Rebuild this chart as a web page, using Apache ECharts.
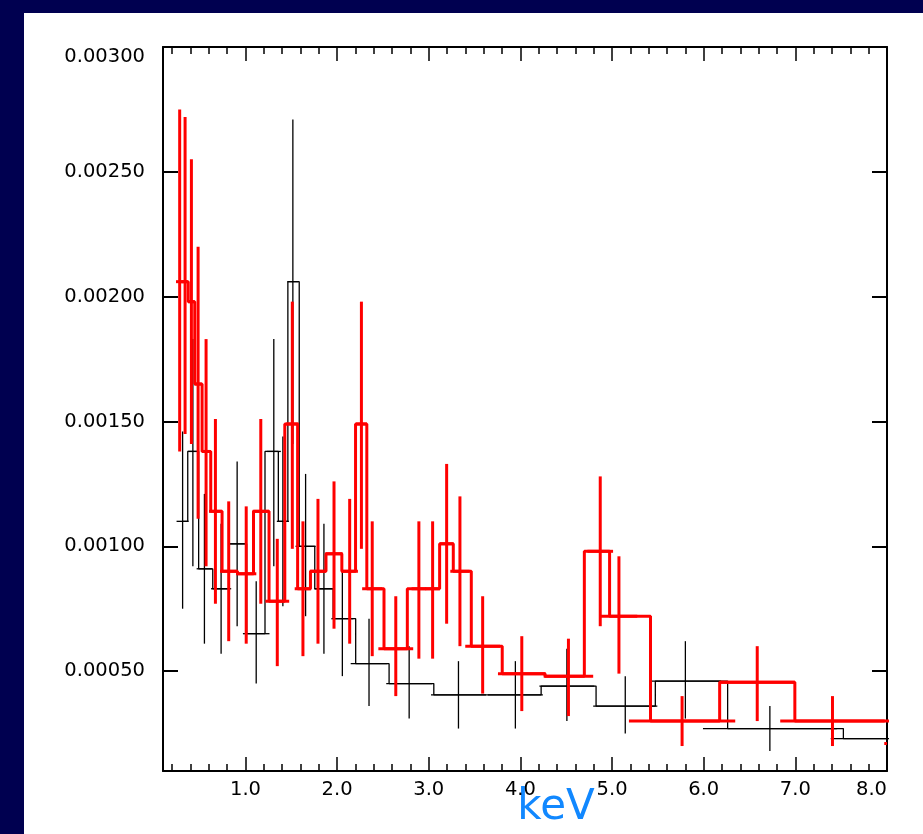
<!DOCTYPE html>
<html>
<head>
<meta charset="utf-8">
<script src="https://cdn.jsdelivr.net/npm/echarts@6/dist/echarts.min.js"></script>
<style>
html, body { margin: 0; padding: 0; background: #fff; }
#main { width: 923px; height: 834px; }
</style>
</head>
<body>
<div id="main"></div>
<script>
// red data set: bin centre and half width (keV), rate, lower / upper error
var redX = [0.282, 0.341, 0.410, 0.483, 0.570, 0.672, 0.817, 1.008, 1.167, 1.347, 1.511, 1.627, 1.791, 1.966, 2.137, 2.265, 2.383, 2.640, 2.892, 3.042, 3.195, 3.340, 3.588, 4.015, 4.524, 4.871, 5.075, 5.764, 6.584, 7.405, 8.700]
var redXErr = [0.04, 0.03, 0.035, 0.04, 0.045, 0.07, 0.095, 0.11, 0.09, 0.13, 0.07, 0.09, 0.09, 0.095, 0.09, 0.06, 0.11, 0.19, 0.08, 0.08, 0.075, 0.105, 0.19, 0.26, 0.27, 0.14, 0.2, 0.58, 0.41, 0.57, 0.73]
var redY = [0.00206, 0.00206, 0.00198, 0.00165, 0.00138, 0.00114, 0.00090, 0.00089, 0.00114, 0.00078, 0.00149, 0.00083, 0.00090, 0.00097, 0.00090, 0.00149, 0.00083, 0.00059, 0.00083, 0.00083, 0.00101, 0.00090, 0.00060, 0.00049, 0.00048, 0.00098, 0.00072, 0.00030, 0.000455, 0.00030, 0.00021]
var redLo = [0.00138, 0.00145, 0.00141, 0.00111, 0.00092, 0.00077, 0.00062, 0.00061, 0.00077, 0.00052, 0.00099, 0.00056, 0.00061, 0.00067, 0.00061, 0.00099, 0.00056, 0.00040, 0.00055, 0.00055, 0.00069, 0.00060, 0.00041, 0.00034, 0.00032, 0.00068, 0.00049, 0.00020, 0.00030, 0.00020, 0.00013]
var redHi = [0.00275, 0.00272, 0.00255, 0.00220, 0.00183, 0.00151, 0.00118, 0.00116, 0.00151, 0.00103, 0.00198, 0.00110, 0.00119, 0.00126, 0.00119, 0.00198, 0.00110, 0.00080, 0.00110, 0.00110, 0.00133, 0.00120, 0.00080, 0.00064, 0.00063, 0.00128, 0.00096, 0.00040, 0.00060, 0.00040, 0.00029]

// black data set
var blackX = [0.314, 0.426, 0.552, 0.734, 0.909, 1.117, 1.309, 1.408, 1.517, 1.656, 1.856, 2.057, 2.348, 2.786, 3.324, 3.945, 4.507, 5.144, 5.800, 6.722, 8.326]
var blackXErr = [0.066, 0.055, 0.085, 0.11, 0.087, 0.145, 0.077, 0.066, 0.06, 0.11, 0.104, 0.12, 0.2, 0.25, 0.3, 0.3, 0.3, 0.35, 0.39, 0.73, 0.94]
var blackY = [0.00110, 0.00138, 0.00091, 0.00083, 0.00101, 0.00065, 0.00138, 0.00110, 0.00206, 0.00100, 0.00083, 0.00071, 0.00053, 0.00045, 0.000405, 0.000405, 0.00044, 0.00036, 0.00046, 0.00027, 0.00023]
var blackLo = [0.00075, 0.00092, 0.00061, 0.00057, 0.00068, 0.00045, 0.00092, 0.00076, 0.00141, 0.00072, 0.00057, 0.00048, 0.00036, 0.00031, 0.00027, 0.00027, 0.00030, 0.00025, 0.00031, 0.00018, 0.00015]
var blackHi = [0.00146, 0.00183, 0.00121, 0.00109, 0.00134, 0.00086, 0.00183, 0.00144, 0.00271, 0.00129, 0.00109, 0.00095, 0.00071, 0.00060, 0.00054, 0.00054, 0.00059, 0.00048, 0.00062, 0.00036, 0.00031]

var font = 'DejaVu Sans'
var myChart = echarts.init(document.getElementById('main'))

// error crosses: horizontal bar = bin width, vertical bar = error range
function crosses(color, width, xs, xerr, ys, lo, hi, z) {
  var data = xs.map(function (x, i) { return [x, xerr[i], ys[i], lo[i], hi[i]] })
  return {
    type: 'custom',
    z: z,
    data: data,
    encode: { x: 0, y: 2 },
    renderItem: function (params, api) {
      var cs = params.coordSys
      var x = api.value(0), hw = api.value(1), y = api.value(2)
      var a = api.coord([x - hw, y]), b = api.coord([x + hw, y])
      var top = api.coord([x, api.value(4)]), bot = api.coord([x, api.value(3)])
      var style = { stroke: color, lineWidth: width, lineCap: 'butt' }
      var kids = []
      var l = Math.max(a[0], cs.x), r = Math.min(b[0], cs.x + cs.width)
      if (r > l) kids.push({ type: 'line', shape: { x1: l, y1: a[1], x2: r, y2: a[1] }, style: style })
      if (top[0] >= cs.x && top[0] <= cs.x + cs.width) {
        var y2 = Math.min(bot[1], cs.y + cs.height), y1 = Math.max(top[1], cs.y)
        kids.push({ type: 'line', shape: { x1: top[0], y1: y1, x2: top[0], y2: y2 }, style: style })
      }
      return { type: 'group', children: kids }
    }
  }
}

function steps(color, width, xs, ys, z) {
  return {
    type: 'line',
    step: 'middle',
    z: z,
    symbol: 'none',
    clip: true,
    lineStyle: { color: color, width: width },
    data: xs.map(function (x, i) { return [x, ys[i]] })
  }
}

var axisLine = { show: true, onZero: false, lineStyle: { color: '#000', width: 2 } }

function xAx(pos, labels) {
  return {
    type: 'value', position: pos, min: 0.1, max: 8.0, splitNumber: 8,
    axisLine: axisLine,
    axisTick: { show: true, inside: true, length: 14, lineStyle: { color: '#000', width: 1.5 } },
    minorTick: { show: true, splitNumber: 5, length: 7, lineStyle: { color: '#000', width: 1.5 } },
    splitLine: { show: false },
    minorSplitLine: { show: false },
    axisLabel: {
      show: labels, margin: 9, color: '#000', fontFamily: font, fontSize: 19.5,
      alignMaxLabel: 'right',
      formatter: function (v) { return Math.abs(v - Math.round(v)) < 1e-6 ? v.toFixed(1) : '' }
    }
  }
}

function yAx(pos, labels) {
  return {
    type: 'value', position: pos, min: 0.0001, max: 0.003, splitNumber: 5,
    axisLine: axisLine,
    axisTick: { show: true, inside: true, length: 15, lineStyle: { color: '#000', width: 2 } },
    splitLine: { show: false },
    axisLabel: {
      show: labels, margin: 18, color: '#000', fontFamily: font, fontSize: 19.5,
      verticalAlignMaxLabel: 'top',
      formatter: function (v) { return Math.abs(v * 2000 - Math.round(v * 2000)) < 1e-6 ? v.toFixed(5) : '' }
    }
  }
}

myChart.setOption({
  backgroundColor: '#fff',
  animation: false,
  grid: { left: 163, right: 36, top: 47, bottom: 63, outerBoundsMode: 'none' },
  graphic: [
    { type: 'rect', left: 0, top: 0, shape: { width: 24, height: 834 }, style: { fill: '#000050' } },
    { type: 'rect', left: 0, top: 0, shape: { width: 923, height: 13 }, style: { fill: '#000050' } },
    // x axis title
    { type: 'text', x: 556, y: 808, style: { text: 'keV', fill: '#1188ff', font: '42px "DejaVu Sans"', textAlign: 'center', textVerticalAlign: 'middle' } }
  ],
  xAxis: [xAx('bottom', true), xAx('top', false)],
  yAxis: [yAx('left', true), yAx('right', false)],
  series: [
    steps('#000', 1.3, blackX, blackY, 2),
    crosses('#000', 1.3, blackX, blackXErr, blackY, blackLo, blackHi, 2),
    steps('#ff0000', 3, redX, redY, 3),
    crosses('#ff0000', 3, redX, redXErr, redY, redLo, redHi, 3)
  ]
})
</script>
</body>
</html>
